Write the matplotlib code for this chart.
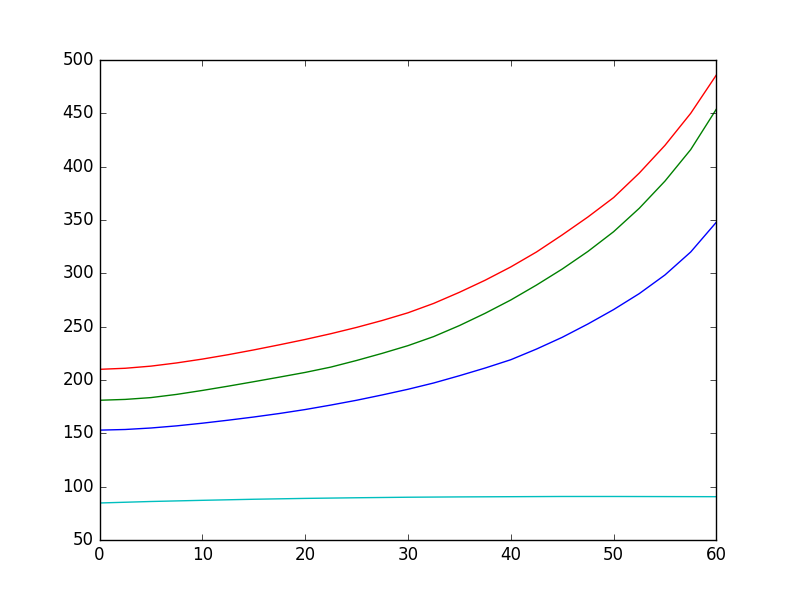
import matplotlib
matplotlib.use("Agg")
import matplotlib.pyplot as plt

plt.style.use('classic')

# Values (x every 2.5 units)
x_vals = [0, 2.5, 5, 7.5, 10, 12.5, 15, 17.5, 20, 22.5, 25, 27.5, 30,
          32.5, 35, 37.5, 40, 42.5, 45, 47.5, 50, 52.5, 55, 57.5, 60]

blue_y = [153, 153.6, 155, 157, 159.5, 162.3, 165.3, 168.6, 172.3, 176.5,
          181, 186, 191.3, 197.2, 204, 211.2, 219, 229, 240, 252.5, 266, 281,
          298.5, 320, 348]

green_y = [181, 181.8, 183.5, 186.5, 190.2, 194.2, 198.4, 202.7, 207.1, 212.1,
           218.3, 225, 232.2, 240.7, 251, 262.5, 275, 289, 304, 320.5, 339,
           361, 386.5, 416, 454]

red_y = [210, 211, 213, 216, 219.6, 223.7, 228.2, 233, 238, 243.4, 249.3,
         255.8, 263, 271.8, 282.2, 293.5, 306, 320, 336, 352.8, 371, 394, 420,
         450, 486]

cyan_x = [0, 5, 10, 15, 20, 25, 30, 35, 40, 45, 50, 55, 60]
cyan_y = [84.7, 86.1, 87.2, 88.2, 89, 89.6, 90.1, 90.4, 90.6, 90.8, 90.8,
          90.7, 90.6]

fig = plt.figure(figsize=(7.96, 6.0), dpi=100)
ax = fig.add_subplot(111)
ax.plot(x_vals, blue_y, color='b')
ax.plot(x_vals, green_y, color='g')
ax.plot(x_vals, red_y, color='r')
ax.plot(cyan_x, cyan_y, color='c')
ax.set_xlim(0, 60)
ax.set_ylim(50, 500)
fig.savefig("out.png", dpi=100)
